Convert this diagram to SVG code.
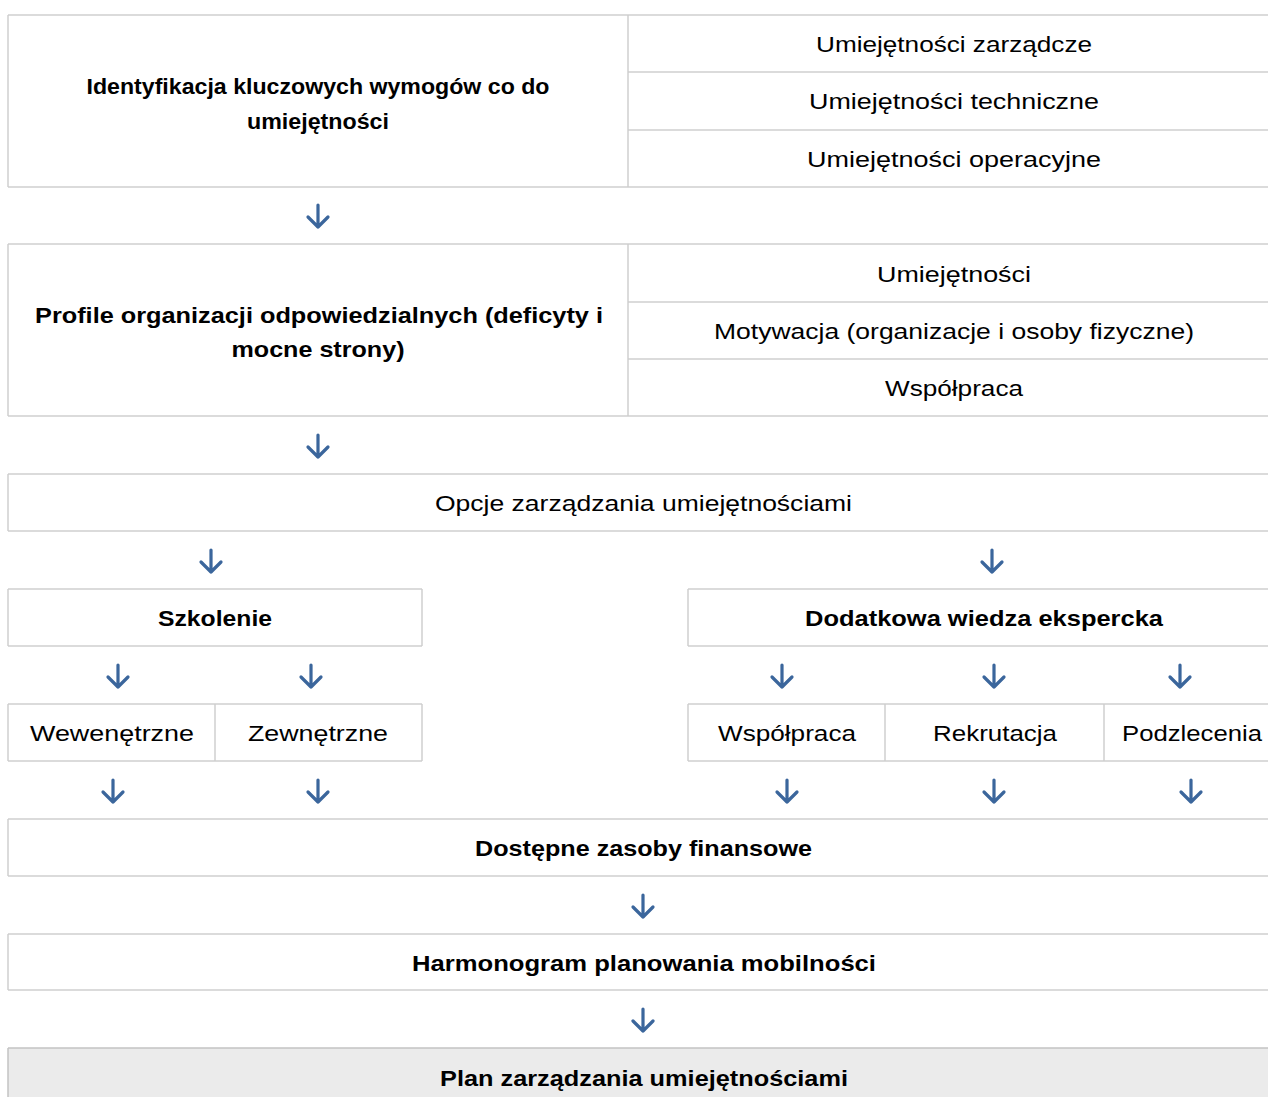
<svg xmlns="http://www.w3.org/2000/svg" xmlns:xlink="http://www.w3.org/1999/xlink" width="1268" height="1097" viewBox="0 0 1268 1097">
<style>
.b{fill:none;stroke:#cfcfcf;stroke-width:1.5}
.t{font-family:"Liberation Sans",Arial,sans-serif;font-size:22px;fill:#000;text-anchor:middle}
.bd{font-weight:bold}
.ar{fill:none;stroke:#3b669c;stroke-width:3.2;stroke-linecap:round;stroke-linejoin:round}
</style>
<defs>
<g id="arr"><path class="ar" d="M0,-11 V11 M-10,1 L0,11 L10,1"/></g>
</defs>
<rect width="1268" height="1097" fill="#fff"/>
<g id="n1">
<path class="b" d="M8,15 H1279 M8,187 H1279 M8,15 V187 M628,15 V187 M628,72 H1279 M628,130 H1279"/>
<text class="t bd" x="318" y="94" textLength="463" lengthAdjust="spacingAndGlyphs">Identyfikacja kluczowych wymogów co do</text>
<text class="t bd" x="318" y="129" textLength="142" lengthAdjust="spacingAndGlyphs">umiejętności</text>
<text class="t" x="954" y="52" textLength="276" lengthAdjust="spacingAndGlyphs">Umiejętności zarządcze</text>
<text class="t" x="954" y="109" textLength="290" lengthAdjust="spacingAndGlyphs">Umiejętności techniczne</text>
<text class="t" x="954" y="167" textLength="294" lengthAdjust="spacingAndGlyphs">Umiejętności operacyjne</text>
</g>
<g id="n2">
<path class="b" d="M8,244 H1279 M8,416 H1279 M8,244 V416 M628,244 V416 M628,302 H1279 M628,359 H1279"/>
<text class="t bd" x="319" y="323" textLength="568" lengthAdjust="spacingAndGlyphs">Profile organizacji odpowiedzialnych (deficyty i</text>
<text class="t bd" x="318" y="357" textLength="173" lengthAdjust="spacingAndGlyphs">mocne strony)</text>
<text class="t" x="954" y="282" textLength="154" lengthAdjust="spacingAndGlyphs">Umiejętności</text>
<text class="t" x="954" y="339" textLength="480" lengthAdjust="spacingAndGlyphs">Motywacja (organizacje i osoby fizyczne)</text>
<text class="t" x="954" y="396" textLength="138" lengthAdjust="spacingAndGlyphs">Współpraca</text>
</g>
<g id="n3">
<path class="b" d="M8,474 H1279 M8,531 H1279 M8,474 V531"/>
<text class="t" x="643.5" y="511" textLength="417" lengthAdjust="spacingAndGlyphs">Opcje zarządzania umiejętnościami</text>
</g>
<g id="n4">
<path class="b" d="M8,589 H422 M8,646 H422 M8,589 V646 M422,589 V646"/>
<text class="t bd" x="215" y="626" textLength="114" lengthAdjust="spacingAndGlyphs">Szkolenie</text>
</g>
<g id="n5">
<path class="b" d="M688,589 H1279 M688,646 H1279 M688,589 V646"/>
<text class="t bd" x="984" y="626" textLength="358" lengthAdjust="spacingAndGlyphs">Dodatkowa wiedza ekspercka</text>
</g>
<g id="n6">
<path class="b" d="M8,704 H215 M8,761 H215 M8,704 V761 M215,704 V761"/>
<text class="t" x="112" y="741" textLength="164" lengthAdjust="spacingAndGlyphs">Wewenętrzne</text>
</g>
<g id="n7">
<path class="b" d="M215,704 H422 M215,761 H422 M422,704 V761"/>
<text class="t" x="318" y="741" textLength="140" lengthAdjust="spacingAndGlyphs">Zewnętrzne</text>
</g>
<g id="n8">
<path class="b" d="M688,704 H885 M688,761 H885 M688,704 V761 M885,704 V761"/>
<text class="t" x="787" y="741" textLength="138" lengthAdjust="spacingAndGlyphs">Współpraca</text>
</g>
<g id="n9">
<path class="b" d="M885,704 H1104 M885,761 H1104 M1104,704 V761"/>
<text class="t" x="995" y="741" textLength="124" lengthAdjust="spacingAndGlyphs">Rekrutacja</text>
</g>
<g id="n10">
<path class="b" d="M1104,704 H1279 M1104,761 H1279"/>
<text class="t" x="1192" y="741" textLength="140" lengthAdjust="spacingAndGlyphs">Podzlecenia</text>
</g>
<g id="n11">
<path class="b" d="M8,819 H1279 M8,876 H1279 M8,819 V876"/>
<text class="t bd" x="643.5" y="856" textLength="337" lengthAdjust="spacingAndGlyphs">Dostępne zasoby finansowe</text>
</g>
<g id="n12">
<path class="b" d="M8,934 H1279 M8,990 H1279 M8,934 V990"/>
<text class="t bd" x="644" y="971" textLength="464" lengthAdjust="spacingAndGlyphs">Harmonogram planowania mobilności</text>
</g>
<g id="n13">
<rect x="8" y="1048" width="1271" height="60" fill="#ebebeb"/>
<path d="M8,1048 H1279 M8,1048 V1097" fill="none" stroke="#c4c4c4" stroke-width="1.5"/>
<text class="t bd" x="644" y="1086" textLength="408" lengthAdjust="spacingAndGlyphs">Plan zarządzania umiejętnościami</text>
</g>
<g id="connectors">
<use xlink:href="#arr" x="318" y="216"/>
<use xlink:href="#arr" x="318" y="446"/>
<use xlink:href="#arr" x="211" y="561"/>
<use xlink:href="#arr" x="992" y="561"/>
<use xlink:href="#arr" x="118" y="676"/>
<use xlink:href="#arr" x="311" y="676"/>
<use xlink:href="#arr" x="782" y="676"/>
<use xlink:href="#arr" x="994" y="676"/>
<use xlink:href="#arr" x="1180" y="676"/>
<use xlink:href="#arr" x="113" y="791"/>
<use xlink:href="#arr" x="318" y="791"/>
<use xlink:href="#arr" x="787" y="791"/>
<use xlink:href="#arr" x="994" y="791"/>
<use xlink:href="#arr" x="1191" y="791"/>
<use xlink:href="#arr" x="643" y="906"/>
<use xlink:href="#arr" x="643" y="1020"/>
</g>
</svg>
